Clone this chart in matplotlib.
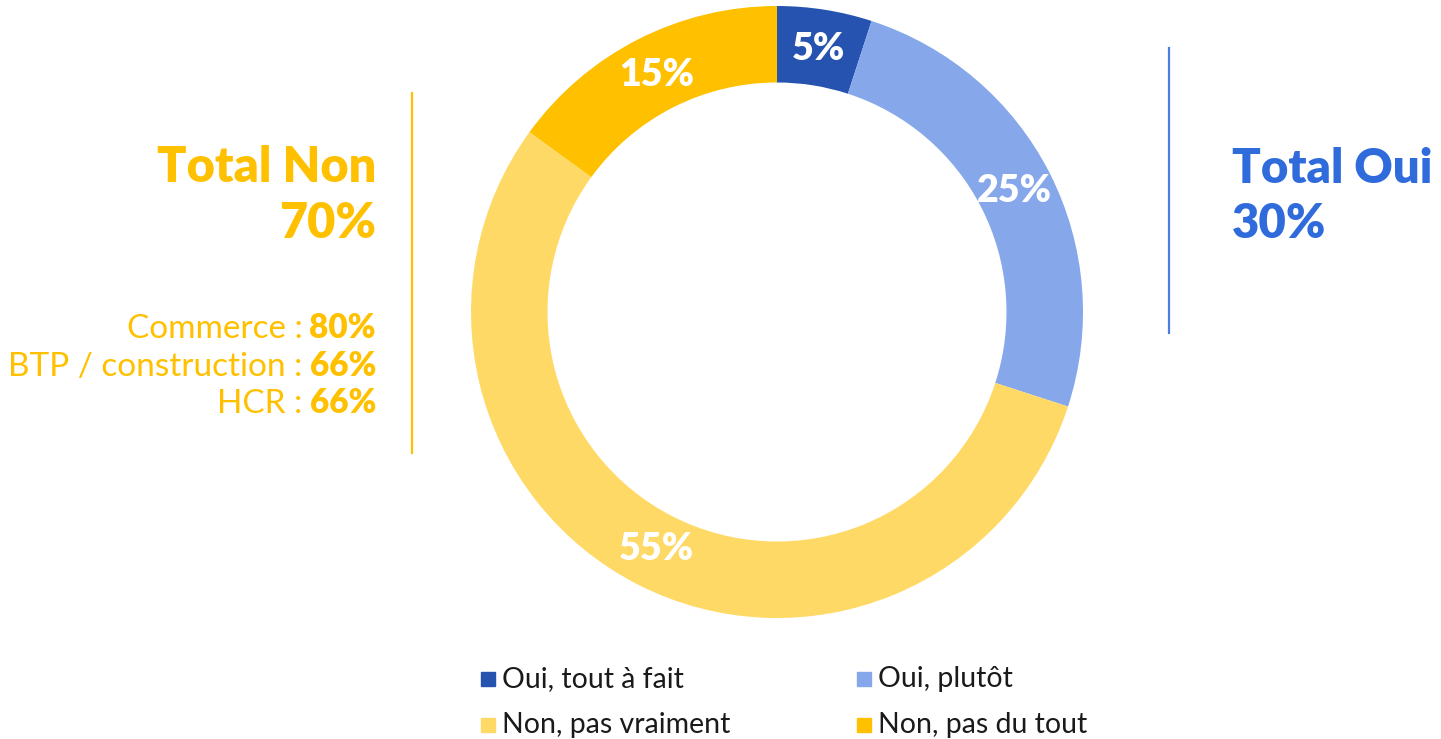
import matplotlib
matplotlib.use("Agg")
import matplotlib.pyplot as plt
from matplotlib.patches import Rectangle

plt.rcParams['font.family'] = ['Lato', 'DejaVu Sans']

# données
categories = ["Oui, tout à fait", "Oui, plutôt", "Non, pas vraiment", "Non, pas du tout"]
values = [5, 25, 55, 15]
colors = ["#2653B0", "#86A7EA", "#FFD966", "#FFC000"]
total_oui = 30
total_non = 70
secteurs = ["Commerce", "BTP / construction", "HCR"]
secteurs_non = [80, 66, 66]

YELLOW = "#FFC000"
BLUE = "#2F6BDA"

W, H = 1441, 739
fig = plt.figure(figsize=(W / 100, H / 100), dpi=100)


def fx(x):
    return x / W


def fy(y):
    return 1 - y / H


# donut
cx, cy, R = 777, 312, 306
half = 320
ax = fig.add_axes([fx(cx - half), fy(cy + half), 2 * half / W, 2 * half / H])
wedges, _, autotexts = ax.pie(values, colors=colors, startangle=90, counterclock=False,
                              radius=1, wedgeprops=dict(width=0.25, linewidth=0),
                              autopct=lambda p: f"{p:.0f}%", pctdistance=0.87,
                              textprops=dict(color="white", fontsize=27, fontweight="heavy"))
ax.set_xlim(-half / R, half / R)
ax.set_ylim(-half / R, half / R)
ax.set_aspect("equal")
ax.axis("off")

# bloc gauche : Total Non
fig.text(fx(376), fy(182), "Total Non", color=YELLOW, fontsize=35, fontweight="heavy",
         ha="right", va="baseline")
fig.text(fx(376), fy(238), f"{total_non}%", color=YELLOW, fontsize=35, fontweight="heavy",
         ha="right", va="baseline")
fig.canvas.draw()
for i, (s, v) in enumerate(zip(secteurs, secteurs_non)):
    y = 338 + i * 37.5
    t = fig.text(fx(376), fy(y), f"{v}%", color=YELLOW, fontsize=24, fontweight="heavy",
                 ha="right", va="baseline")
    bb = t.get_window_extent(renderer=fig.canvas.get_renderer())
    fig.text((bb.x0 - 7) / W, fy(y), f"{s} :", color=YELLOW, fontsize=24,
             ha="right", va="baseline")
fig.add_artist(plt.Line2D([fx(412), fx(412)], [fy(93), fy(453)], color=YELLOW, lw=1.6))

# bloc droit : Total Oui
fig.text(fx(1232), fy(183), "Total Oui", color=BLUE, fontsize=34, fontweight="heavy",
         ha="left", va="baseline")
fig.text(fx(1232), fy(238), f"{total_oui}%", color=BLUE, fontsize=34, fontweight="heavy",
         ha="left", va="baseline")
fig.add_artist(plt.Line2D([fx(1169), fx(1169)], [fy(48), fy(333)], color="#4A7FE0", lw=1.6))

# légende
for k in range(len(categories)):
    col, row = k % 2, k // 2
    x0 = 481 + col * 376
    y0 = 679 + row * 46
    fig.add_artist(Rectangle((fx(x0), fy(y0 + 7)), 14 / W, 14 / H, color=colors[k],
                             transform=fig.transFigure))
    fig.text(fx(x0 + 21), fy(y0), categories[k], fontsize=20.5, color="#1a1a1a",
             ha="left", va="center")

fig.savefig("out.png", dpi=100)
